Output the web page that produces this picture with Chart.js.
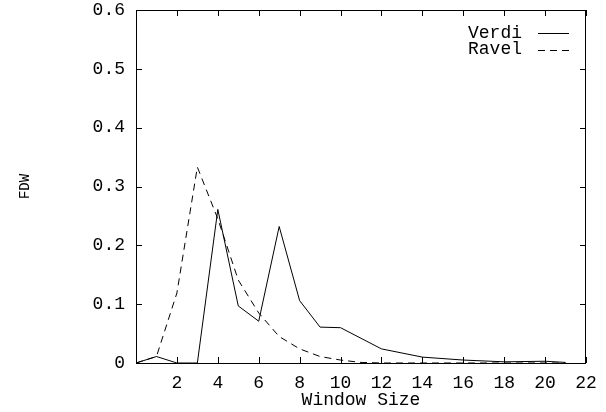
<!DOCTYPE html>
<html>
<head>
<meta charset="utf-8">
<script src="https://cdn.jsdelivr.net/npm/chart.js@4.4.1/dist/chart.umd.min.js"></script>
<style>
  html, body { margin: 0; padding: 0; background: #fff; }
  #wrap { width: 606px; height: 412px; }
</style>
</head>
<body>
<div id="wrap"><canvas id="chart-fdw"></canvas></div>
<script>
// ── data ──
const verdiX = [0, 1, 2, 3, 4, 5, 6, 7, 8, 9, 10, 12, 14, 16, 18, 20, 21];
const verdiY = [0, 0.011, 0, 0, 0.261, 0.097, 0.071, 0.232, 0.106, 0.061, 0.060, 0.024, 0.010, 0.005, 0.002, 0.003, 0.001];
const ravelX = [0, 1, 2, 3, 4, 5, 6, 7, 8, 9, 10, 11, 12, 14, 16, 18, 20, 21];
const ravelY = [0, 0.011, 0.119, 0.333, 0.245, 0.141, 0.085, 0.045, 0.024, 0.011, 0.005, 0.001, 0, 0, 0, 0, 0, 0];
const seriesNames = ['Verdi', 'Ravel'];
const xTicks = [2, 4, 6, 8, 10, 12, 14, 16, 18, 20, 22];

const MONO = "'Liberation Mono', 'DejaVu Sans Mono', monospace";
const pts = (xs, ys) => xs.map((x, i) => ({ x: x, y: ys[i] }));

// gnuplot style frame: box on four sides, inward ticks mirrored, key top right
const gnuplotFrame = {
  id: 'gnuplotFrame',
  afterDraw(chart) {
    const { ctx, chartArea: a, scales: { x, y } } = chart;
    ctx.save();
    ctx.strokeStyle = '#000';
    ctx.lineWidth = 1;
    ctx.strokeRect(a.left + 0.5, a.top + 0.5, a.right - a.left - 1, a.bottom - a.top);
    ctx.beginPath();
    x.ticks.forEach(t => {
      const px = Math.round(x.getPixelForValue(t.value)) + 0.5;
      ctx.moveTo(px, a.bottom); ctx.lineTo(px, a.bottom - 6);
      ctx.moveTo(px, a.top); ctx.lineTo(px, a.top + 6);
    });
    y.ticks.forEach(t => {
      const py = Math.round(y.getPixelForValue(t.value)) + 0.5;
      ctx.moveTo(a.left, py); ctx.lineTo(a.left + 6, py);
      ctx.moveTo(a.right, py); ctx.lineTo(a.right - 6, py);
    });
    ctx.stroke();

    // key
    ctx.font = '18px ' + MONO;
    ctx.fillStyle = '#000';
    ctx.textAlign = 'right';
    ctx.textBaseline = 'middle';
    chart.data.datasets.forEach((ds, i) => {
      const ky = 33 + i * 16.5;
      ctx.fillText(ds.label, 522, ky);
      ctx.setLineDash(ds.borderDash || []);
      ctx.beginPath();
      ctx.moveTo(538, Math.round(ky) + 0.5);
      ctx.lineTo(569, Math.round(ky) + 0.5);
      ctx.stroke();
    });
    ctx.restore();
  }
};

new Chart(document.getElementById('chart-fdw'), {
  type: 'line',
  data: {
    datasets: [{
      label: seriesNames[0],
      data: pts(verdiX, verdiY),
      borderColor: '#000',
      borderWidth: 1,
      pointRadius: 0,
      fill: false,
      tension: 0,
    }, {
      label: seriesNames[1],
      data: pts(ravelX, ravelY),
      borderColor: '#000',
      borderWidth: 1,
      borderDash: [7, 5],
      pointRadius: 0,
      fill: false,
      tension: 0,
    }]
  },
  options: {
    responsive: true, maintainAspectRatio: false,
    animation: false,
    layout: { padding: { top: 10, right: 20, left: 0, bottom: 0 } },
    plugins: { legend: { display: false }, tooltip: { enabled: false } },
    scales: {
      x: {
        type: 'linear', min: 0, max: 22,
        afterBuildTicks: s => { s.ticks = [0].concat(xTicks).map(v => ({ value: v })); },
        afterFit: s => { s.height = 49; s.paddingLeft = 0; s.paddingRight = 0; },
        grid: { display: false, drawTicks: false },
        border: { display: false },
        ticks: {
          color: '#000', padding: 9, maxRotation: 0,
          font: { family: MONO, size: 18 },
          callback: v => v === 0 ? '' : v
        },
        title: { display: true, text: 'Window Size', color: '#000', font: { family: MONO, size: 18 }, padding: { top: 0, bottom: 1 } }
      },
      y: {
        min: 0, max: 0.6,
        afterFit: s => { s.width = 136; s.paddingTop = 0; s.paddingBottom = 0; },
        grid: { display: false, drawTicks: false },
        border: { display: false },
        ticks: {
          color: '#000', padding: 11, stepSize: 0.1,
          font: { family: MONO, size: 18 },
          callback: v => v === 0 ? '0' : v.toFixed(1)
        },
        title: { display: true, text: 'FDW', color: '#000', font: { family: MONO, size: 14 }, padding: { top: 17, bottom: 0 } }
      }
    }
  },
  plugins: [gnuplotFrame]
});
</script>
</body>
</html>
